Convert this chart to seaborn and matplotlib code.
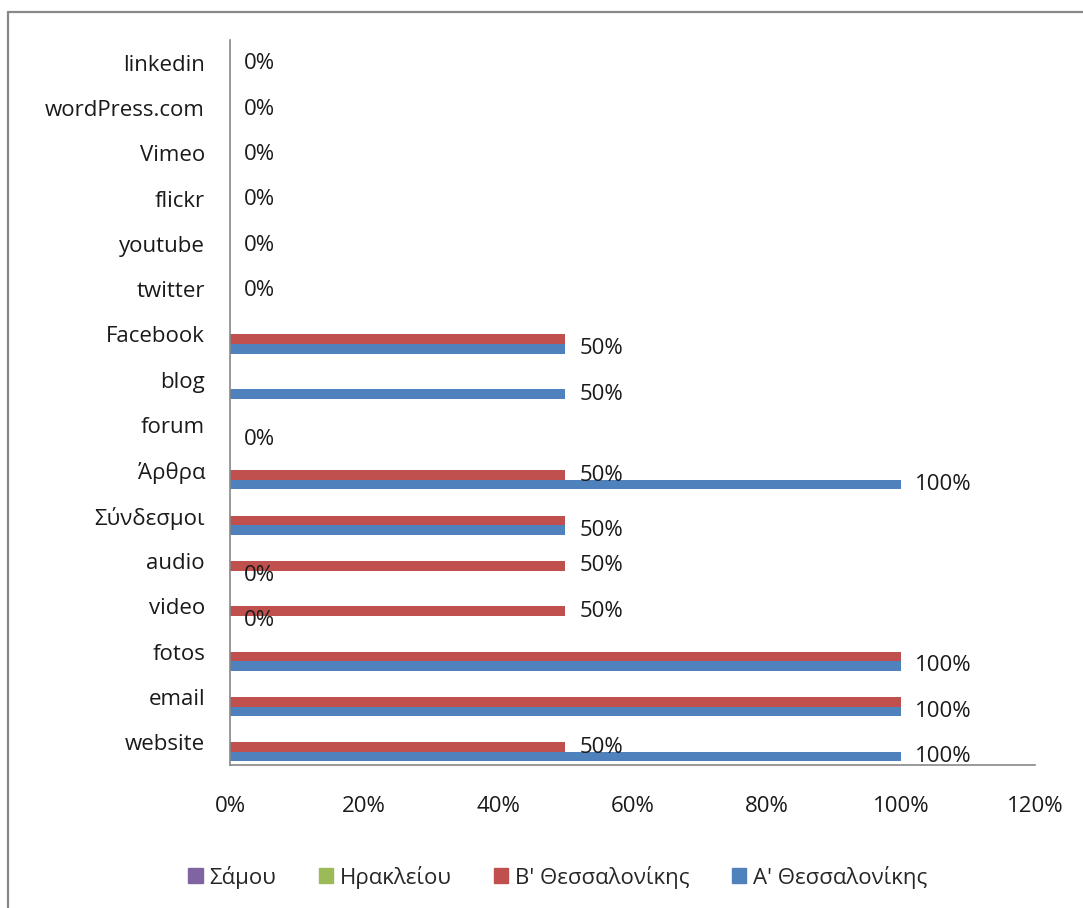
import pandas as pd
import numpy as np
import seaborn as sns
import matplotlib.pyplot as plt
from matplotlib.patches import Rectangle
from matplotlib.ticker import PercentFormatter

# categories from top to bottom
categories = ['linkedin', 'wordPress.com', 'Vimeo', 'flickr', 'youtube', 'twitter',
              'Facebook', 'blog', 'forum', 'Άρθρα', 'Σύνδεσμοι', 'audio', 'video',
              'fotos', 'email', 'website']
series_names = ['Σάμου', 'Ηρακλείου', "Β' Θεσσαλονίκης", "Α' Θεσσαλονίκης"]
samou = [0, 0, 0, 0, 0, 0, 0, 0, 0, 0, 0, 0, 0, 0, 0, 0]
irakleiou = [0, 0, 0, 0, 0, 0, 0, 0, 0, 0, 0, 0, 0, 0, 0, 0]
b_thess = [0, 0, 0, 0, 0, 0, 0.5, 0, 0, 0.5, 0.5, 0.5, 0.5, 1.0, 1.0, 0.5]
a_thess = [0, 0, 0, 0, 0, 0, 0.5, 0.5, 0, 1.0, 0.5, 0, 0, 1.0, 1.0, 1.0]
colors = ['#8064A2', '#9BBB59', '#C0504D', '#4F81BD']

# which bars carry a data label (as in the original sheet)
labels_b = ['linkedin', 'wordPress.com', 'Vimeo', 'flickr', 'youtube', 'twitter',
            'Άρθρα', 'audio', 'video', 'website']
labels_a = ['Facebook', 'blog', 'forum', 'Άρθρα', 'Σύνδεσμοι', 'audio', 'video',
            'fotos', 'email', 'website']

df = pd.DataFrame({'cat': categories * 4,
                   'series': np.repeat(series_names, len(categories)),
                   'value': samou + irakleiou + b_thess + a_thess})

sns.set_theme(style='white')
plt.rcParams['font.family'] = ['Open Sans', 'DejaVu Sans']
FS = 16

fig = plt.figure(figsize=(10.83, 9.08), dpi=100)
ax = fig.add_axes([0.2124, 0.1575, 0.7433, 0.7985])
sns.barplot(data=df, y='cat', x='value', hue='series', order=categories,
            hue_order=series_names, palette=colors, width=0.84, orient='h',
            saturation=1, ax=ax, legend=False, errorbar=None, linewidth=0)

ax.set_xlim(0, 1.2)
ax.set_ylim(15.5, -0.5)
ax.set_xticks(np.arange(0, 1.21, 0.2))
ax.xaxis.set_major_formatter(PercentFormatter(1.0, decimals=0))
ax.tick_params(axis='x', length=0, pad=22, labelsize=FS, colors='#1a1a1a')
ax.tick_params(axis='y', length=0, pad=18, labelsize=FS, colors='#1a1a1a')
ax.set_xlabel('')
ax.set_ylabel('')
for s in ['top', 'right']:
    ax.spines[s].set_visible(False)
for s in ['left', 'bottom']:
    ax.spines[s].set_color('#888888')
    ax.spines[s].set_linewidth(1.2)

# data labels at each labelled bar end
n_hue = len(series_names)
bw = 0.84 / n_hue
for name, vals, labelled in [(series_names[2], b_thess, labels_b),
                             (series_names[3], a_thess, labels_a)]:
    k = series_names.index(name)
    for i, c in enumerate(categories):
        if c not in labelled:
            continue
        v = vals[i]
        yc = i - 0.42 + bw * (k + 0.5)
        if name == series_names[2] and v == 0:
            yc = i + 0.03
        ax.annotate('{:.0%}'.format(v), (v, yc), xytext=(10, 0),
                    textcoords='offset points', va='center', ha='left',
                    fontsize=FS, color='#1a1a1a')

handles = [Rectangle((0, 0), 1, 1, color=c) for c in colors]
fig.legend(handles, series_names, loc='center', bbox_to_anchor=(0.515, 0.034),
           ncol=4, frameon=False, fontsize=FS, handlelength=0.65,
           handleheight=0.65, handletextpad=0.3, columnspacing=1.9)

# chart border (top and left edges visible)
fig.add_artist(plt.Line2D([8 / 1083, 1.0], [1 - 12 / 908, 1 - 12 / 908],
                          color='#888888', lw=1.6, transform=fig.transFigure))
fig.add_artist(plt.Line2D([8 / 1083, 8 / 1083], [0.0, 1 - 12 / 908],
                          color='#888888', lw=1.6, transform=fig.transFigure))

fig.savefig('out.png', dpi=100, facecolor='white')
